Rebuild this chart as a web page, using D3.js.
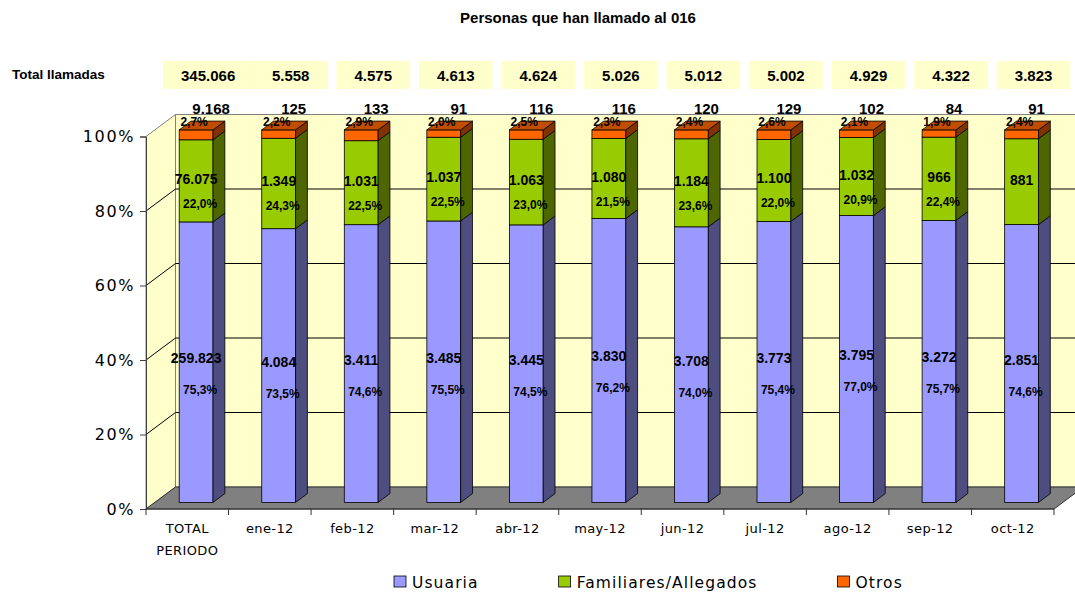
<!DOCTYPE html>
<html>
<head>
<meta charset="utf-8">
<script src="https://cdn.jsdelivr.net/npm/d3@7"></script>
<style>
body { margin: 0; background: #fff; }
svg { display: block; }
.lbl { font-family: 'Liberation Sans', Arial, sans-serif; font-weight: bold; fill: #000; }
.gothic { font-family: 'DejaVu Sans', sans-serif; fill: #000; }
</style>
</head>
<body>
<script>
// data
var categories = ['TOTAL PERIODO', 'ene-12', 'feb-12', 'mar-12', 'abr-12', 'may-12', 'jun-12', 'jul-12', 'ago-12', 'sep-12', 'oct-12'];
var usuaria    = [259823, 4084, 3411, 3485, 3445, 3830, 3708, 3773, 3795, 3272, 2851];
var familiares = [76075, 1349, 1031, 1037, 1063, 1080, 1184, 1100, 1032, 966, 881];
var otros      = [9168, 125, 133, 91, 116, 116, 120, 129, 102, 84, 91];
var totals     = [345066, 5558, 4575, 4613, 4624, 5026, 5012, 5002, 4929, 4322, 3823];
var usuariaPct    = ['75,3%', '73,5%', '74,6%', '75,5%', '74,5%', '76,2%', '74,0%', '75,4%', '77,0%', '75,7%', '74,6%'];
var familiaresPct = ['22,0%', '24,3%', '22,5%', '22,5%', '23,0%', '21,5%', '23,6%', '22,0%', '20,9%', '22,4%', ''];
var otrosPct      = ['2,7%', '2,2%', '2,9%', '2,0%', '2,5%', '2,3%', '2,4%', '2,6%', '2,1%', '1,9%', '2,4%'];
var seriesNames = ['Usuaria', 'Familiares/Allegados', 'Otros'];
var yTicks = [0, 0.2, 0.4, 0.6, 0.8, 1];

var W = 1075, H = 594;

// colours: front, side, top
var cols = {
	'Usuaria': ['#9999FF', '#4D4D80', '#7373BF'],
	'Familiares/Allegados': ['#99CC00', '#4D6600', '#739900'],
	'Otros': ['#FF6600', '#803300', '#C04D00']
};

var loc = d3.formatLocale({decimal: ',', thousands: '.', grouping: [3], currency: ['', '']});
var fmt = loc.format(',d');
var pctFmt = loc.format('.0%');

// 3d depth of the plot box
var depth = {x: 29.5, y: -22};
var barDepth = {x: depth.x * 0.4, y: depth.y * 0.4};
var front = {x: depth.x * 0.3, y: depth.y * 0.3};

var x = d3.scaleBand().domain(categories).range([146, 1054]);
var y = d3.scaleLinear().domain([0, 1]).range([509, 136.5]);
var bw = x.bandwidth() * 0.41;

var svg = d3.select('body').append('svg')
	.attr('width', W)
	.attr('height', H);

svg.append('rect').attr('width', W).attr('height', H).attr('fill', '#fff');

var x0 = x.range()[0], x1 = x.range()[1];

// walls + floor
var bg = svg.append('g');

bg.append('rect')
	.attr('x', x0 + depth.x)
	.attr('y', y(1) + depth.y)
	.attr('width', x1 - x0)
	.attr('height', y(0) - y(1))
	.attr('fill', '#FFFFCC')
	.attr('stroke', '#808080');

bg.append('path')
	.attr('d', 'M' + x0 + ',' + y(0) + 'L' + x0 + ',' + y(1) + 'L' + (x0 + depth.x) + ',' + (y(1) + depth.y) + 'L' + (x0 + depth.x) + ',' + (y(0) + depth.y) + 'Z')
	.attr('fill', '#FFFFCC')
	.attr('stroke', '#808080');

// grid lines, back wall and left wall
yTicks.filter(function(t) { return t > 0 && t < 1; }).forEach(function(t) {
	bg.append('path')
		.attr('d', 'M' + x0 + ',' + y(t) + 'L' + (x0 + depth.x) + ',' + (y(t) + depth.y) + 'L' + (x1 + depth.x) + ',' + (y(t) + depth.y))
		.attr('fill', 'none')
		.attr('stroke', '#000')
		.attr('stroke-width', 1);
});

bg.append('path')
	.attr('d', 'M' + x0 + ',' + y(0) + 'L' + x1 + ',' + y(0) + 'L' + (x1 + depth.x) + ',' + (y(0) + depth.y) + 'L' + (x0 + depth.x) + ',' + (y(0) + depth.y) + 'Z')
	.attr('fill', '#808080')
	.attr('stroke', '#333')
	.attr('stroke-width', 1);

// y axis
var yAxis = svg.append('g')
	.attr('transform', 'translate(' + x0 + ',0)')
	.call(d3.axisLeft(y).tickValues(yTicks).tickFormat(pctFmt).tickSize(6).tickPadding(5));
yAxis.select('.domain').attr('stroke', '#404040');
yAxis.selectAll('.tick line').attr('stroke', '#404040');
yAxis.selectAll('text')
	.attr('class', 'gothic')
	.attr('font-size', 16)
	.attr('letter-spacing', 1.6)
	.attr('fill', '#000');

// x axis: ticks on band boundaries, labels in the middle
var xAxis = svg.append('g')
	.attr('transform', 'translate(0,' + y(0) + ')');
xAxis.append('line').attr('x1', x0).attr('x2', x1).attr('stroke', '#333');
xAxis.selectAll('.bt')
	.data(categories.concat(['end']))
	.enter().append('line')
	.attr('x1', function(d, i) { return x0 + i * x.step(); })
	.attr('x2', function(d, i) { return x0 + i * x.step(); })
	.attr('y1', 0)
	.attr('y2', 6)
	.attr('stroke', '#333');
xAxis.selectAll('.cl')
	.data(categories)
	.enter().append('text')
	.attr('class', 'gothic')
	.attr('font-size', 13)
	.attr('letter-spacing', 0.4)
	.attr('text-anchor', 'middle')
	.attr('x', function(d) { return x(d) + x.bandwidth() / 2; })
	.attr('y', 24)
	.each(function(d) {
		var words = d.split(' ');
		var t = d3.select(this);
		words.forEach(function(w, k) {
			t.append('tspan')
				.attr('x', x(d) + x.bandwidth() / 2)
				.attr('dy', k == 0 ? 0 : 22)
				.text(w);
		});
	});

// stacked bars
var rows = categories.map(function(c, i) {
	return {'cat': c, 'Usuaria': usuaria[i], 'Familiares/Allegados': familiares[i], 'Otros': otros[i]};
});
var stacked = d3.stack().keys(seriesNames).offset(d3.stackOffsetExpand)(rows);

var bars = svg.append('g');

categories.forEach(function(c, i) {
	var g = bars.append('g');
	var bx = x(c) + (x.bandwidth() - bw) / 2 + front.x;
	stacked.forEach(function(s, k) {
		var yb = y(s[i][0]) + front.y;
		var yt = y(s[i][1]) + front.y;
		var cc = cols[s.key];
		g.append('rect')
			.attr('x', bx).attr('y', yt)
			.attr('width', bw).attr('height', yb - yt)
			.attr('fill', cc[0])
			.attr('stroke', '#000').attr('stroke-width', 0.8);
		g.append('path')
			.attr('d', 'M' + (bx + bw) + ',' + yt + 'L' + (bx + bw) + ',' + yb + 'L' + (bx + bw + barDepth.x) + ',' + (yb + barDepth.y) + 'L' + (bx + bw + barDepth.x) + ',' + (yt + barDepth.y) + 'Z')
			.attr('fill', cc[1])
			.attr('stroke', '#000').attr('stroke-width', 0.8);
		if (k == stacked.length - 1) {
			g.append('path')
				.attr('d', 'M' + bx + ',' + yt + 'L' + (bx + bw) + ',' + yt + 'L' + (bx + bw + barDepth.x) + ',' + (yt + barDepth.y) + 'L' + (bx + barDepth.x) + ',' + (yt + barDepth.y) + 'Z')
				.attr('fill', cc[2])
				.attr('stroke', '#000').attr('stroke-width', 0.8);
		}
	});
});

// data labels
var labels = svg.append('g');
var values = [usuaria, familiares, otros];
var pcts = [usuariaPct, familiaresPct, otrosPct];

categories.forEach(function(c, i) {
	var cx = x(c) + x.bandwidth() / 2 + front.x;
	// usuaria + familiares: count in the middle, share below
	[0, 1].forEach(function(k) {
		var seg = stacked[k][i];
		var mid = (y(seg[0]) + y(seg[1])) / 2 + front.y;
		labels.append('text')
			.attr('class', 'lbl')
			.attr('font-size', 14)
			.attr('text-anchor', 'middle')
			.attr('x', cx)
			.attr('y', mid + (k == 0 ? 1 : 3))
			.text(fmt(values[k][i]));
		labels.append('text')
			.attr('class', 'lbl')
			.attr('font-size', 12)
			.attr('text-anchor', 'middle')
			.attr('x', cx + 4)
			.attr('y', mid + (k == 0 ? 32 : 27))
			.text(pcts[k][i]);
	});
	// otros: share on the top face, count above it
	labels.append('text')
		.attr('class', 'lbl')
		.attr('font-size', 12)
		.attr('text-anchor', 'middle')
		.attr('x', cx - 2)
		.attr('y', y(1) + front.y - 4)
		.text(otrosPct[i]);
	labels.append('text')
		.attr('class', 'lbl')
		.attr('font-size', 15)
		.attr('text-anchor', 'middle')
		.attr('x', cx + 15)
		.attr('y', y(1) + front.y - 16)
		.text(fmt(otros[i]));
	// total box row
	var tg = labels.append('g');
	var tt = tg.append('text')
		.attr('class', 'lbl')
		.attr('font-size', 15)
		.attr('text-anchor', 'middle')
		.attr('x', cx + 12)
		.attr('y', 81)
		.text(fmt(totals[i]));
	var tw = tt.node().getComputedTextLength() + 36;
	tg.insert('rect', 'text')
		.attr('x', cx + 12 - tw / 2)
		.attr('y', 61)
		.attr('width', tw)
		.attr('height', 28)
		.attr('fill', '#FFFFCC');
});

svg.append('text')
	.attr('class', 'lbl')
	.attr('font-size', 13.5)
	.attr('x', 12)
	.attr('y', 79)
	.text('Total llamadas');

// title
svg.append('text')
	.attr('class', 'lbl')
	.attr('font-size', 15)
	.attr('text-anchor', 'middle')
	.attr('x', 578)
	.attr('y', 23)
	.text('Personas que han llamado al 016');

// legend
var leg = svg.append('g').attr('transform', 'translate(394,576)');
var lx = 0;
seriesNames.forEach(function(s) {
	leg.append('rect')
		.attr('x', lx).attr('y', 0)
		.attr('width', 12).attr('height', 11)
		.attr('fill', cols[s][0])
		.attr('stroke', '#000').attr('stroke-width', 0.8);
	var t = leg.append('text')
		.attr('class', 'gothic')
		.attr('font-size', 15.5)
		.attr('letter-spacing', 1.1)
		.attr('x', lx + 18)
		.attr('y', 12)
		.text(s);
	lx += 18 + t.node().getComputedTextLength() + 80;
});
</script>
</body>
</html>
